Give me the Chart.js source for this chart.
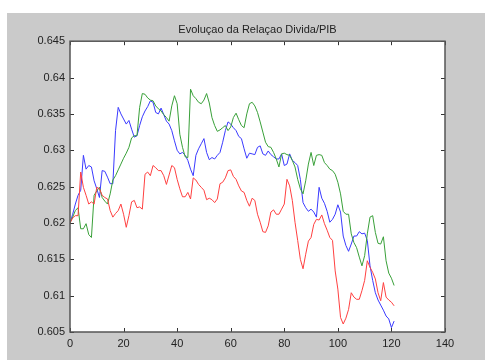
<!DOCTYPE html>
<html>
<head>
<meta charset="utf-8">
<script src="https://cdn.jsdelivr.net/npm/chart.js@4.4.1/dist/chart.umd.min.js"></script>
<style>
  html, body { margin: 0; padding: 0; background: #fff; }
  #wrap { width: 485px; height: 360px; }
</style>
</head>
<body>
<div id="wrap"><canvas id="chart" width="485" height="360"></canvas></div>
<script>
// Evolução da relação Dívida/PIB - três trajetórias simuladas

const chartTitle = "Evoluçao da Relaçao Divida/PIB";

const xTicks = [0, 20, 40, 60, 80, 100, 120, 140];
const yTicks = [0.605, 0.61, 0.615, 0.62, 0.625, 0.63, 0.635, 0.64, 0.645];

// periodos 0..121
const periods = Array.from({ length: 122 }, (_, i) => i);

const serieAzul = [
  0.6200, 0.6212, 0.6226, 0.6238, 0.6245, 0.6293, 0.6274, 0.6279, 0.6277, 0.6258,
  0.6247, 0.6235, 0.6272, 0.6271, 0.6263, 0.6254, 0.6254, 0.6327, 0.6359, 0.6350,
  0.6343, 0.6336, 0.6341, 0.6329, 0.6318, 0.6320, 0.6334, 0.6346, 0.6354, 0.6360,
  0.6368, 0.6366, 0.6352, 0.6350, 0.6358, 0.6349, 0.6340, 0.6336, 0.6327, 0.6313,
  0.6300, 0.6295, 0.6297, 0.6293, 0.6286, 0.6274, 0.6265, 0.6293, 0.6302, 0.6309,
  0.6316, 0.6297, 0.6287, 0.6290, 0.6288, 0.6293, 0.6297, 0.6311, 0.6327, 0.6339,
  0.6336, 0.6331, 0.6327, 0.6319, 0.6316, 0.6302, 0.6289, 0.6296, 0.6295, 0.6294,
  0.6304, 0.6306, 0.6295, 0.6293, 0.6299, 0.6294, 0.6291, 0.6288, 0.6288, 0.6295,
  0.6279, 0.6281, 0.6295, 0.6286, 0.6283, 0.6279, 0.6260, 0.6228, 0.6221, 0.6216,
  0.6219, 0.6215, 0.6208, 0.6249, 0.6234, 0.6227, 0.6216, 0.6201, 0.6205, 0.6212,
  0.6225, 0.6215, 0.6182, 0.6169, 0.6161, 0.6171, 0.6182, 0.6182, 0.6188, 0.6185,
  0.6186, 0.6176, 0.6141, 0.6121, 0.6104, 0.6094, 0.6087, 0.6080, 0.6072, 0.6068,
  0.6056, 0.6065
];

const serieVerde = [
  0.6200, 0.6208, 0.6217, 0.6221, 0.6192, 0.6192, 0.6199, 0.6184, 0.6180, 0.6238,
  0.6244, 0.6249, 0.6235, 0.6230, 0.6226, 0.6240, 0.6259, 0.6265, 0.6273, 0.6281,
  0.6289, 0.6296, 0.6304, 0.6317, 0.6320, 0.6320, 0.6359, 0.6378, 0.6377, 0.6372,
  0.6369, 0.6368, 0.6361, 0.6357, 0.6354, 0.6349, 0.6345, 0.6340, 0.6361, 0.6375,
  0.6364, 0.6322, 0.6304, 0.6291, 0.6290, 0.6384, 0.6375, 0.6371, 0.6366, 0.6364,
  0.6369, 0.6378, 0.6365, 0.6345, 0.6334, 0.6326, 0.6328, 0.6331, 0.6334, 0.6327,
  0.6332, 0.6345, 0.6351, 0.6342, 0.6334, 0.6331, 0.6350, 0.6364, 0.6366, 0.6361,
  0.6352, 0.6339, 0.6325, 0.6311, 0.6305, 0.6304, 0.6297, 0.6288, 0.6277, 0.6295,
  0.6296, 0.6294, 0.6293, 0.6286, 0.6277, 0.6260, 0.6247, 0.6240, 0.6258, 0.6281,
  0.6297, 0.6279, 0.6293, 0.6294, 0.6293, 0.6283, 0.6279, 0.6274, 0.6272, 0.6267,
  0.6256, 0.6240, 0.6216, 0.6212, 0.6212, 0.6185, 0.6173, 0.6166, 0.6153, 0.6141,
  0.6155, 0.6185, 0.6208, 0.6210, 0.6187, 0.6172, 0.6171, 0.6181, 0.6148, 0.6131,
  0.6124, 0.6114
];

const serieVermelha = [
  0.6200, 0.6207, 0.6210, 0.6210, 0.6270, 0.6249, 0.6238, 0.6226, 0.6229, 0.6226,
  0.6249, 0.6247, 0.6238, 0.6235, 0.6233, 0.6217, 0.6208, 0.6213, 0.6217, 0.6226,
  0.6212, 0.6194, 0.6210, 0.6229, 0.6231, 0.6221, 0.6222, 0.6219, 0.6267, 0.6270,
  0.6265, 0.6279, 0.6276, 0.6272, 0.6272, 0.6265, 0.6253, 0.6266, 0.6279, 0.6276,
  0.6260, 0.6247, 0.6236, 0.6236, 0.6242, 0.6233, 0.6262, 0.6259, 0.6253, 0.6249,
  0.6245, 0.6232, 0.6234, 0.6232, 0.6228, 0.6233, 0.6254, 0.6256, 0.6262, 0.6272,
  0.6273, 0.6264, 0.6260, 0.6251, 0.6244, 0.6242, 0.6231, 0.6223, 0.6234, 0.6231,
  0.6212, 0.6201, 0.6188, 0.6187, 0.6196, 0.6215, 0.6218, 0.6212, 0.6212, 0.6219,
  0.6226, 0.6260, 0.6251, 0.6231, 0.6201, 0.6176, 0.6150, 0.6137, 0.6157, 0.6175,
  0.6180, 0.6198, 0.6205, 0.6204, 0.6211, 0.6199, 0.6190, 0.6180, 0.6176, 0.6134,
  0.6109, 0.6070, 0.6061, 0.6069, 0.6081, 0.6104, 0.6098, 0.6095, 0.6095, 0.6107,
  0.6121, 0.6148, 0.6139, 0.6132, 0.6123, 0.6104, 0.6093, 0.6118, 0.6098, 0.6094,
  0.6091, 0.6086
];

function toPoints(values) {
  return values.map((v, i) => ({ x: periods[i], y: v }));
}

// fundo cinza da figura + area branca do grafico
const figureBackground = {
  id: "figureBackground",
  beforeDraw(chart) {
    const { ctx, chartArea } = chart;
    ctx.save();
    ctx.fillStyle = "#ffffff";
    ctx.fillRect(0, 0, chart.width, chart.height);
    ctx.fillStyle = "#cacaca";
    ctx.fillRect(7, 13, chart.width - 7, chart.height - 13);
    ctx.fillStyle = "#ffffff";
    ctx.fillRect(chartArea.left, chartArea.top, chartArea.right - chartArea.left, chartArea.bottom - chartArea.top);
    ctx.restore();
  }
};

// caixa dos eixos com marcas para dentro (estilo matlab)
const axesBox = {
  id: "axesBox",
  afterDraw(chart) {
    const { ctx, chartArea } = chart;
    const xs = chart.scales.x;
    const ys = chart.scales.y;
    const len = 4;
    ctx.save();
    ctx.strokeStyle = "#333333";
    ctx.lineWidth = 1;
    ctx.beginPath();
    xTicks.forEach(v => {
      const px = Math.round(xs.getPixelForValue(v)) + 0.5;
      ctx.moveTo(px, chartArea.bottom);
      ctx.lineTo(px, chartArea.bottom - len);
      ctx.moveTo(px, chartArea.top);
      ctx.lineTo(px, chartArea.top + len);
    });
    yTicks.forEach(v => {
      const py = Math.round(ys.getPixelForValue(v)) + 0.5;
      ctx.moveTo(chartArea.left, py);
      ctx.lineTo(chartArea.left + len, py);
      ctx.moveTo(chartArea.right, py);
      ctx.lineTo(chartArea.right - len, py);
    });
    ctx.stroke();
    ctx.strokeStyle = "#555555";
    ctx.lineWidth = 1.5;
    ctx.strokeRect(chartArea.left, chartArea.top, chartArea.right - chartArea.left, chartArea.bottom - chartArea.top);
    ctx.restore();
  }
};

const tickFont = { family: "'Liberation Sans', Arial, sans-serif", size: 11 };

new Chart(document.getElementById("chart"), {
  type: "line",
  data: {
    datasets: [
      { label: "vermelha", data: toPoints(serieVermelha), borderColor: "#ff4040", borderWidth: 1, pointRadius: 0, tension: 0 },
      { label: "verde", data: toPoints(serieVerde), borderColor: "#39a039", borderWidth: 1, pointRadius: 0, tension: 0 },
      { label: "azul", data: toPoints(serieAzul), borderColor: "#3a3aff", borderWidth: 1, pointRadius: 0, tension: 0 }
    ]
  },
  options: {
    responsive: false,
    animation: false,
    layout: { padding: { left: 0, right: 40, top: 0, bottom: 0 } },
    scales: {
      x: {
        type: "linear",
        min: 0,
        max: 140,
        afterBuildTicks: scale => { scale.ticks = xTicks.map(v => ({ value: v })); },
        afterFit: scale => { scale.height = 28; },
        grid: { display: false, drawTicks: false },
        border: { display: false },
        ticks: { color: "#222", font: tickFont, padding: 5, maxRotation: 0 }
      },
      y: {
        min: 0.605,
        max: 0.645,
        afterBuildTicks: scale => { scale.ticks = yTicks.map(v => ({ value: v })); },
        afterFit: scale => { scale.width = 70; },
        grid: { display: false, drawTicks: false },
        border: { display: false },
        ticks: {
          color: "#222",
          font: tickFont,
          padding: 5,
          callback: v => String(parseFloat(Number(v).toFixed(3)))
        }
      }
    },
    plugins: {
      legend: { display: false },
      tooltip: { enabled: false },
      title: {
        display: true,
        text: chartTitle,
        fullSize: false,
        color: "#222",
        font: { family: "'Liberation Sans', Arial, sans-serif", size: 11, weight: "normal" },
        padding: { top: 23, bottom: 5 }
      }
    }
  },
  plugins: [figureBackground, axesBox]
});
</script>
</body>
</html>
